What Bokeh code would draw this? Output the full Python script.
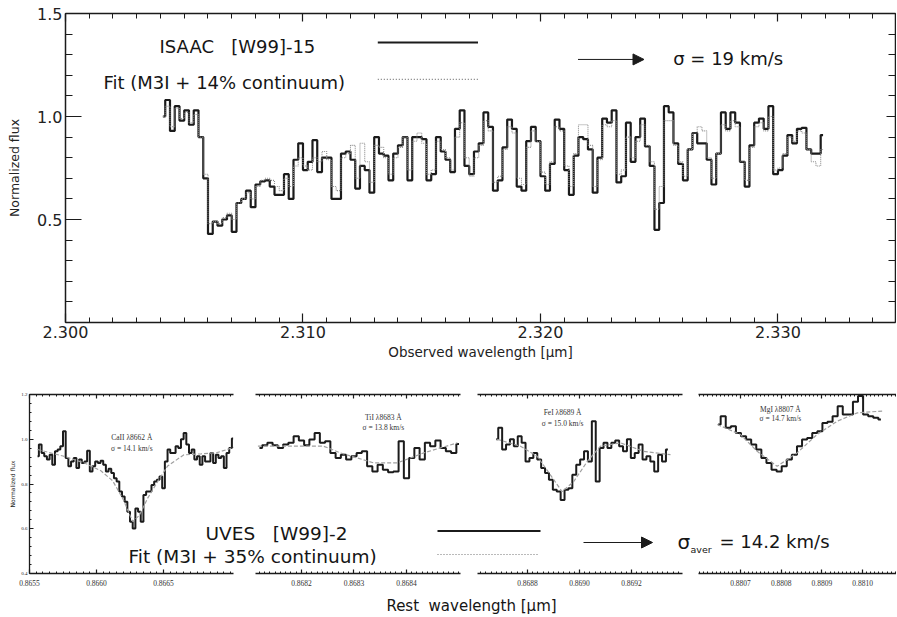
from bokeh.plotting import figure
from bokeh.models import (Range1d, LinearAxis, FixedTicker, PrintfTickFormatter,
                          CustomJSTickFormatter, Label, Arrow, NormalHead, GridBox)
from bokeh.embed import file_html
from bokeh.resources import INLINE

SANS = "DejaVu Sans"
SERIF = "Liberation Serif"
INK = "#1b1b1b"
NB = "\u00a0"

# ---------------- ISAAC spectrum (top panel) ----------------
isaac_start = 2.3041
isaac_step = 0.0002
isaac_flux = [
    1.00, 1.08, 0.93, 1.05, 0.98, 1.03, 0.96, 1.03, 0.90, 0.70,
    0.43, 0.49, 0.47, 0.50, 0.52, 0.44, 0.58, 0.60, 0.64, 0.56,
    0.67, 0.685, 0.69, 0.66, 0.62, 0.62, 0.72, 0.60, 0.79, 0.87,
    0.74, 0.78, 0.885, 0.73, 0.80, 0.80, 0.60, 0.60, 0.82, 0.83,
    0.79, 0.65, 0.76, 0.74, 0.63, 0.90, 0.82, 0.81, 0.69, 0.82,
    0.86, 0.90, 0.69, 0.90, 0.90, 0.89, 0.69, 0.72, 0.90, 0.83,
    0.79, 0.73, 0.94, 1.03, 0.76, 0.72, 0.83, 0.87, 1.02, 0.95,
    0.64, 0.69, 0.85, 0.985, 0.94, 0.66, 0.64, 0.88, 0.95, 0.88,
    0.71, 0.64, 0.77, 0.985, 0.94, 0.74, 0.62, 0.81, 0.90, 0.89,
    0.84, 0.63, 0.80, 0.99, 0.97, 1.03, 0.68, 0.71, 0.97, 0.78,
    0.90, 0.99, 0.855, 0.76, 0.45, 0.58, 1.05, 1.02, 0.87, 0.77,
    0.69, 0.84, 0.92, 0.87, 0.87, 0.79, 0.67, 0.82, 1.02, 0.94,
    1.02, 0.97, 0.78, 0.66, 0.86, 0.97, 0.99, 0.94, 1.05, 0.72,
    0.74, 0.81, 0.91, 0.87, 0.94, 0.945, 0.84, 0.82, 0.82, 0.91,
]
isaac_fit = [
    1.00, 1.05, 0.95, 1.04, 0.99, 1.02, 0.97, 1.01, 0.90,
    0.72, 0.48, 0.49, 0.48, 0.51, 0.53, 0.50,
    0.58, 0.60, 0.63, 0.60, 0.66, 0.69, 0.70, 0.69, 0.66, 0.64, 0.70, 0.66,
    0.76, 0.80, 0.76, 0.74, 0.80, 0.78, 0.83, 0.79, 0.66, 0.64,
    0.80, 0.82, 0.86, 0.70, 0.87, 0.78, 0.68, 0.86, 0.85, 0.80,
    0.72, 0.80, 0.85, 0.90, 0.74, 0.88, 0.92, 0.87, 0.72, 0.74, 0.88, 0.84, 0.80,
    0.74, 0.90, 0.97, 0.80, 0.71, 0.80, 0.86, 0.98, 0.93, 0.68, 0.71, 0.84, 0.95, 0.92, 0.70,
    0.67, 0.85, 0.93, 0.88, 0.73, 0.67, 0.78, 0.95, 0.93, 0.76, 0.66, 0.82, 0.96, 0.96, 0.86, 0.66, 0.79,
    0.96, 0.95, 0.98, 0.72, 0.74, 0.90, 0.80, 0.88, 0.96, 0.86, 0.78, 0.55, 0.66, 0.98, 0.98, 0.86, 0.78, 0.71,
    0.84, 0.92, 0.95, 0.93, 0.80, 0.70, 0.82, 0.96, 0.93, 0.98, 0.95, 0.78, 0.69, 0.85, 0.95,
    0.97, 0.93, 1.00, 0.74, 0.75, 0.82, 0.90, 0.88, 0.93, 0.92, 0.84, 0.78, 0.76, 0.84,
]
isaac_wl = [round(isaac_start + isaac_step * i, 5) for i in range(len(isaac_flux))]

top_xticks = [2.300, 2.310, 2.320, 2.330]
top_yticks = [0.5, 1.0, 1.5]

# ---------------- UVES line panels ----------------
ca_start, ca_step = 0.86556, 0.00002
ca_flux = [
    0.924, 0.976, 0.939, 0.924, 0.909, 0.931, 0.886, 0.946, 0.954, 0.969,
    1.036, 0.916, 0.879, 0.901, 0.916, 0.871, 0.909, 0.894, 0.901, 0.949,
    0.856, 0.879, 0.901, 0.894, 0.904, 0.886, 0.856, 0.868, 0.849, 0.826,
    0.811, 0.766, 0.744, 0.721, 0.676, 0.631, 0.601, 0.691, 0.676, 0.631,
    0.751, 0.766, 0.766, 0.796, 0.811, 0.819, 0.834, 0.781, 0.901, 0.954,
    0.939, 0.939, 0.969, 0.961, 1.000, 1.028, 0.976, 0.939, 0.954, 0.909,
    0.924, 0.886, 0.924, 0.901, 0.901, 0.939, 0.894, 0.931, 0.916, 0.924,
    0.871, 0.939, 0.961, 1.003,
]
ca_fit_wl = [0.86556, 0.86575, 0.86591, 0.86603, 0.86612, 0.86620, 0.86627, 0.86632,
             0.86638, 0.86646, 0.86653, 0.86665, 0.86678, 0.86690, 0.86703]
ca_fit = [0.954, 0.925, 0.894, 0.860, 0.815, 0.730, 0.632, 0.660,
          0.735, 0.815, 0.880, 0.930, 0.935, 0.940, 0.965]
ca_ticks = [0.8655, 0.8660, 0.8665]

ti_start, ti_step = 0.86812, 0.00001
ti_flux = [
    0.961, 0.973, 0.984, 0.973, 0.961, 0.976, 0.984, 1.013, 0.994, 0.973,
    0.999, 1.028, 0.984, 0.991, 0.939, 0.916, 0.931, 0.909, 0.924, 0.939,
    0.946, 0.879, 0.856, 0.886, 0.864, 0.853, 0.856, 0.991, 0.826, 0.916,
    0.961, 0.909, 0.984, 0.969, 0.994, 0.961, 0.946, 0.939, 0.979,
]
ti_fit_wl = [0.868117, 0.868242, 0.868274, 0.868338, 0.868382, 0.868433, 0.868497]
ti_fit = [0.969, 0.969, 0.939, 0.894, 0.894, 0.939, 0.984]
ti_ticks = [0.8682, 0.8683, 0.8684]

fe_start, fe_step = 0.86868, 0.000015
fe_flux = [
    1.000, 1.051, 0.954, 0.976, 1.000, 0.969, 1.013, 0.984, 0.901, 0.916,
    0.939, 0.909, 0.871, 0.849, 0.819, 0.774, 0.766, 0.729, 0.774, 0.781,
    0.841, 0.886, 0.909, 0.946, 0.901, 1.081, 0.811, 0.961, 0.984, 0.961,
    0.984, 0.994, 0.969, 0.946, 1.000, 0.916, 0.939, 0.976, 0.909, 0.924,
    0.901, 0.856, 0.931, 0.901, 0.954,
]
fe_fit_wl = [0.868683, 0.868773, 0.868837, 0.868888, 0.868933, 0.868978,
             0.869030, 0.869081, 0.869158, 0.869247, 0.869350]
fe_fit = [1.000, 0.969, 0.924, 0.841, 0.766, 0.811, 0.901, 0.969, 0.984, 0.946, 0.931]
fe_ticks = [0.8688, 0.8690, 0.8692]

mg_start, mg_step = 0.880645, 0.0000125
mg_flux = [
    1.066, 1.103, 1.051, 1.058, 1.028, 1.013, 0.999, 0.976, 0.954, 0.916,
    0.894, 0.864, 0.856, 0.879, 0.909, 0.931, 0.969, 0.999, 1.006, 1.028,
    1.036, 1.073, 1.078, 1.103, 1.148, 1.111, 1.111, 1.168, 1.193, 1.111,
    1.103, 1.096, 1.088,
]
mg_fit_wl = [0.880643, 0.880700, 0.880741, 0.880790, 0.880839, 0.880888,
             0.880938, 0.880987, 0.881048]
mg_fit = [1.066, 1.021, 0.946, 0.879, 0.939, 1.021, 1.081, 1.118, 1.126]
mg_ticks = [0.8807, 0.8808, 0.8809, 0.8810]

panel_yticks = [0.4, 0.6, 0.8, 1.0, 1.2]

ROW2_H = 235


def grid_of(start, step, n, nd=7):
    return [round(start + step * i, nd) for i in range(n)]


def blank():
    return CustomJSTickFormatter(code="return ''")


def style_axis(ax, tick_in, minor_in, lw=1.5, font=SANS, size="16px", standoff=4):
    ax.major_tick_in = tick_in
    ax.major_tick_out = 0
    ax.minor_tick_in = minor_in
    ax.minor_tick_out = 0
    ax.axis_line_width = lw
    ax.axis_line_color = INK
    ax.major_tick_line_color = INK
    ax.minor_tick_line_color = INK
    ax.major_tick_line_width = 1.2
    ax.minor_tick_line_width = 1
    ax.major_label_text_font = font
    ax.major_label_text_font_size = size
    ax.major_label_text_color = "#222222"
    ax.major_label_standoff = standoff
    ax.axis_label_text_font = SANS
    ax.axis_label_text_font_style = "normal"
    ax.axis_label_text_color = "#222222"


# ---------------- top figure ----------------
top = figure(width=896, height=380, output_backend="svg", toolbar_location=None,
             x_range=Range1d(2.300, 2.33495), y_range=Range1d(0.0, 1.5),
             x_axis_location=None, y_axis_location=None, frame_align=False,
             min_border_left=65, min_border_right=1, min_border_top=13, min_border_bottom=58,
             outline_line_color=None, background_fill_color="white",
             border_fill_color="white")
top.grid.visible = False

xt = FixedTicker(ticks=top_xticks, minor_ticks=[round(2.300 + 0.001 * k, 3) for k in range(35)])
yt = FixedTicker(ticks=top_yticks, minor_ticks=[round(0.1 * k, 1) for k in range(16)])

xb = LinearAxis(ticker=xt, formatter=PrintfTickFormatter(format="%.3f"),
                axis_label="Observed wavelength [μm]")
style_axis(xb, 9, 5, standoff=3)
xb.axis_label_text_font_size = "13.5px"
xb.axis_label_standoff = 3
top.add_layout(xb, "below")

yl = LinearAxis(ticker=yt, formatter=PrintfTickFormatter(format="%.1f"),
                axis_label="Normalized flux")
style_axis(yl, 16, 7, standoff=3)
yl.axis_label_text_font_size = "12.5px"
yl.axis_label_standoff = 12
top.add_layout(yl, "left")

xa = LinearAxis(ticker=xt, formatter=blank())
style_axis(xa, 8, 5, standoff=0)
top.add_layout(xa, "above")

yr = LinearAxis(ticker=yt, formatter=blank())
style_axis(yr, 9, 7, standoff=0)
top.add_layout(yr, "right")

top.step(isaac_wl, isaac_flux, mode="center", line_color=INK, line_width=2.2)
top.step(isaac_wl, isaac_fit, mode="center", line_color="#8c8c8c", line_width=1.1,
         line_dash="1 1")

top.add_layout(Label(x=2.30396, y=1.340, text="ISAAC" + NB * 3 + "[W99]-15", text_font=SANS,
                     text_font_size="18px", text_baseline="middle", text_color="#151515"))
top.add_layout(Label(x=2.30160, y=1.165, text="Fit (M3I + 14% continuum)", text_font=SANS,
                     text_font_size="18px", text_baseline="middle", text_color="#151515"))
top.segment(x0=[2.31315], y0=[1.359], x1=[2.31737], y1=[1.359], line_color=INK, line_width=2)
top.segment(x0=[2.31315], y0=[1.180], x1=[2.31737], y1=[1.180], line_color="#777777",
            line_width=1.2, line_dash="1 2")
top.add_layout(Arrow(end=NormalHead(size=11, fill_color=INK, line_color=INK),
                     x_start=2.32158, y_start=1.277, x_end=2.32436, y_end=1.277,
                     line_color=INK, line_width=1))
top.add_layout(Label(x=2.32559, y=1.282, text="σ = 19 km/s", text_font=SANS,
                     text_font_size="18px", text_baseline="middle", text_color="#151515"))


# ---------------- bottom panels ----------------
def make_panel(width, left, right, xr, ticks, minor_step, wl, flux, fit_wl, fit_flux,
               name, sigma, lab_x, lab_y1, lab_y2, show_y=False):
    p = figure(width=width, height=ROW2_H, output_backend="svg", toolbar_location=None,
               x_range=Range1d(*xr), y_range=Range1d(0.4, 1.2),
               x_axis_location=None, y_axis_location=None, frame_align=False,
               min_border_left=left, min_border_right=right,
               min_border_top=14, min_border_bottom=ROW2_H - 193,
               outline_line_color=None, background_fill_color="white",
               border_fill_color="white")
    p.grid.visible = False
    nminor = int(round((xr[1] - xr[0]) / minor_step)) + 3
    first = round(xr[0] - (xr[0] % minor_step), 7)
    minors = [round(first + minor_step * k, 7) for k in range(nminor)]
    tk = FixedTicker(ticks=ticks, minor_ticks=minors)
    b = LinearAxis(ticker=tk, formatter=PrintfTickFormatter(format="%.4f"))
    style_axis(b, 4, 2, lw=1.3, font=SERIF, size="7.5px", standoff=6)
    b.major_label_text_color = "#333333"
    p.add_layout(b, "below")
    a = LinearAxis(ticker=tk, formatter=blank())
    style_axis(a, 4, 2, lw=1.3, standoff=0)
    p.add_layout(a, "above")
    if show_y:
        ytk = FixedTicker(ticks=panel_yticks,
                          minor_ticks=[round(0.4 + 0.04 * k, 2) for k in range(21)])
        l = LinearAxis(ticker=ytk, formatter=PrintfTickFormatter(format="%.1f"),
                       axis_label="Normalized flux")
        style_axis(l, 4, 2, lw=1.3, font=SERIF, size="5px", standoff=2)
        l.axis_label_text_font_size = "6px"
        l.axis_label_standoff = 2
        p.add_layout(l, "left")
    p.step(wl, flux, mode="center", line_color=INK, line_width=2)
    p.line(fit_wl, fit_flux, line_color="#a0a0a0", line_width=1.2, line_dash="4 2")
    p.add_layout(Label(x=lab_x, y=lab_y1, text=name, text_font=SERIF, text_font_size="7.5px",
                       text_align="center", text_baseline="middle", text_color="#333333"))
    p.add_layout(Label(x=lab_x, y=lab_y2, text=sigma, text_font=SERIF, text_font_size="7.5px",
                       text_align="center", text_baseline="middle", text_color="#333333"))
    return p


p1 = make_panel(244, 29, 11, (0.8655, 0.867022), ca_ticks, 0.00005,
                grid_of(ca_start, ca_step, len(ca_flux)), ca_flux, ca_fit_wl, ca_fit,
                "CaII λ8662 Å", "σ = 14.1 km/s", 0.866263, 1.008, 0.959, show_y=True)
p2 = make_panel(224, 11, 8, (0.8681124, 0.8685029), ti_ticks, 0.00001,
                grid_of(ti_start, ti_step, len(ti_flux)), ti_flux, ti_fit_wl, ti_fit,
                "TiI λ8683 Å", "σ = 13.8 km/s", 0.868356, 1.097, 1.052)
p3 = make_panel(222, 9, 8, (0.8686077, 0.8693962), fe_ticks, 0.00002,
                grid_of(fe_start, fe_step, len(fe_flux)), fe_flux, fe_fit_wl, fe_fit,
                "FeI λ8689 Å", "σ = 15.0 km/s", 0.868935, 1.120, 1.070)
p4 = make_panel(206, 8, 0, (0.8805968, 0.8810833), mg_ticks, 0.00001,
                grid_of(mg_start, mg_step, len(mg_flux)), mg_flux, mg_fit_wl, mg_fit,
                "MgI λ8807 Å", "σ = 14.7 km/s", 0.880798, 1.133, 1.093)

# ---------------- transparent overlay for the shared bottom annotations ----------------
ov = figure(width=896, height=ROW2_H, output_backend="svg", toolbar_location=None,
            x_range=Range1d(0, 896), y_range=Range1d(380 + ROW2_H, 380),
            x_axis_location=None, y_axis_location=None, min_border=0, frame_align=False,
            outline_line_color=None, background_fill_color=None, border_fill_color=None)
ov.grid.visible = False
ov.add_layout(Label(x=205, y=533, text="UVES" + NB * 3 + "[W99]-2", text_font=SANS,
                    text_font_size="18.5px", text_baseline="middle", text_color="#151515"))
ov.add_layout(Label(x=128, y=556, text="Fit (M3I + 35% continuum)", text_font=SANS,
                    text_font_size="18.5px", text_baseline="middle", text_color="#151515"))
ov.segment(x0=[437], y0=[530.5], x1=[540], y1=[530.5], line_color=INK, line_width=2)
ov.segment(x0=[437], y0=[554], x1=[538], y1=[554], line_color="#777777", line_width=1.2,
           line_dash="1 2")
ov.add_layout(Arrow(end=NormalHead(size=11, fill_color=INK, line_color=INK),
                    x_start=583, y_start=542, x_end=652, y_end=542,
                    line_color=INK, line_width=1))
ov.add_layout(Label(x=677, y=541, text="σ", text_font=SANS, text_font_size="20px",
                    text_baseline="middle", text_color="#151515"))
ov.add_layout(Label(x=690, y=548.5, text="aver", text_font=SANS, text_font_size="9.5px",
                    text_baseline="middle", text_color="#151515"))
ov.add_layout(Label(x=719, y=541, text="= 14.2 km/s", text_font=SANS, text_font_size="18px",
                    text_baseline="middle", text_color="#151515"))
ov.add_layout(Label(x=471, y=605, text="Rest" + NB * 2 + "wavelength [μm]", text_font=SANS,
                    text_font_size="15px", text_align="center", text_baseline="middle",
                    text_color="#151515"))

layout = GridBox(children=[(top, 0, 0, 1, 4),
                           (p1, 1, 0), (p2, 1, 1), (p3, 1, 2), (p4, 1, 3),
                           (ov, 1, 0, 1, 4)], spacing=0)

open("out.html", "w").write(file_html(layout, INLINE))
